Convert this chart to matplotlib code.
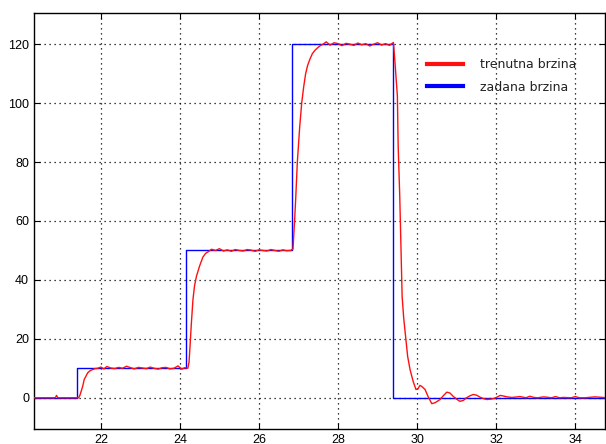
import matplotlib
matplotlib.use('Agg')
import matplotlib.pyplot as plt

# zadana brzina (setpoint) - step times and levels
set_t = [20.3, 21.39, 21.39, 24.15, 24.15, 26.83, 26.83, 29.39, 29.39, 34.8]
set_v = [0, 0, 10, 10, 50, 50, 120, 120, 0, 0]

red_start = [(20.3, 0.0), (20.6, 0.0), (20.85, 0.0), (20.88, 0.8), (20.91, 0.0), (21.2, 0.0),
             (21.44, 0.0)]
red_rise1 = [(21.47, 0.8), (21.50, 2.1), (21.54, 3.8), (21.58, 6.2), (21.63, 7.5), (21.67, 8.5),
             (21.73, 9.2), (21.80, 9.6), (21.86, 9.9), (21.92, 10.0)]
red_flat10 = [(22.0, 10.4), (22.08, 9.8), (22.15, 10.6), (22.25, 10.1), (22.35, 9.9), (22.45, 10.3),
              (22.55, 10.0), (22.65, 10.7), (22.75, 10.2), (22.85, 9.8), (22.95, 10.3), (23.05, 10.1),
              (23.15, 9.9), (23.25, 10.4), (23.35, 10.0), (23.45, 9.7), (23.55, 10.2), (23.65, 10.3),
              (23.75, 9.8), (23.85, 10.0), (23.95, 10.8), (24.05, 9.7), (24.12, 10.2), (24.20, 10.0)]
red_rise2 = [(24.23, 12.0), (24.25, 16.1), (24.29, 25.3), (24.33, 33.3), (24.37, 38.0), (24.42, 41.3),
             (24.50, 44.8), (24.58, 47.7), (24.65, 49.0), (24.71, 49.5), (24.80, 50.4)]
red_flat50 = [(24.9, 50.0), (25.0, 50.6), (25.1, 49.8), (25.2, 50.2), (25.3, 49.7), (25.4, 50.3),
              (25.5, 50.0), (25.6, 49.8), (25.7, 50.3), (25.8, 50.1), (25.9, 49.7), (26.0, 50.2),
              (26.1, 50.0), (26.2, 49.8), (26.3, 50.3), (26.4, 50.0), (26.5, 49.7), (26.6, 50.2),
              (26.7, 49.9), (26.8, 50.0), (26.86, 50.5)]
red_rise3 = [(26.88, 55.0), (26.90, 60.0), (26.93, 68.0), (26.97, 80.0), (27.03, 92.0), (27.08, 100.0),
             (27.13, 105.5), (27.18, 110.0), (27.23, 112.8), (27.29, 115.0), (27.35, 116.8),
             (27.42, 118.0), (27.50, 119.0), (27.56, 119.6), (27.62, 120.0)]
red_flat120 = [(27.7, 120.8), (27.8, 119.7), (27.9, 120.5), (28.0, 120.2), (28.1, 119.5), (28.2, 120.3),
               (28.3, 120.0), (28.4, 119.6), (28.5, 120.4), (28.6, 119.8), (28.7, 120.2), (28.8, 119.4),
               (28.9, 120.0), (29.0, 120.5), (29.1, 119.7), (29.2, 120.2), (29.3, 119.6), (29.40, 120.6)]
red_drop = [(29.44, 113.7), (29.47, 108.0), (29.50, 102.4), (29.52, 85.4), (29.56, 68.4), (29.59, 51.4),
            (29.62, 34.4), (29.66, 27.0), (29.69, 23.0), (29.76, 14.0), (29.82, 9.6), (29.90, 5.5),
            (29.97, 2.8)]
red_tail = [(30.02, 3.0), (30.07, 4.2), (30.12, 3.8), (30.20, 2.8), (30.28, 0.3), (30.37, -2.0),
            (30.45, -1.7), (30.58, -0.6), (30.67, 0.8), (30.75, 1.9), (30.83, 1.6), (30.91, 0.5),
            (31.0, -0.5), (31.08, -1.2), (31.17, -0.9), (31.25, 0.0), (31.34, 0.7), (31.42, 1.1),
            (31.50, 0.9), (31.59, 0.2), (31.68, -0.3), (31.76, -0.6), (31.85, -0.5), (31.93, -0.3),
            (32.02, 0.2), (32.10, 0.8), (32.18, 0.6), (32.27, 0.3), (32.4, 0.1), (32.6, 0.4),
            (32.75, 0.0), (32.85, 0.5), (32.95, 0.1), (33.05, 0.0), (33.2, 0.3), (33.4, 0.0),
            (33.5, 0.4), (33.6, 0.0), (33.7, 0.1), (33.9, 0.0), (34.0, 0.4), (34.1, 0.0),
            (34.25, 0.0), (34.5, 0.3), (34.8, 0.0)]

red_pts = red_start + red_rise1 + red_flat10 + red_rise2 + red_flat50 + red_rise3 + red_flat120 + red_drop + red_tail
red_t = [p[0] for p in red_pts]
red_v = [p[1] for p in red_pts]

fig = plt.figure(figsize=(6.06, 4.44), dpi=100)
ax = fig.add_axes([0.0561, 0.0345, 0.9422, 0.9369])

ax.plot(set_t, set_v, color='#0000ff', linewidth=1.0, zorder=2, label='zadana brzina')
ax.plot(red_t, red_v, color='#ff1010', linewidth=1.0, zorder=3, label='trenutna brzina')

ax.set_xlim(20.31, 34.75)
ax.set_ylim(-10.5, 130.7)
ax.set_xticks([22, 24, 26, 28, 30, 32, 34])
ax.set_yticks([0, 20, 40, 60, 80, 100, 120])

ax.grid(True, color='black', linestyle=(0, (1, 3)), linewidth=0.9)
ax.tick_params(direction='in', length=4, top=True, right=True, labelsize=9, pad=3.5,
               color='black')
for lbl in ax.get_xticklabels() + ax.get_yticklabels():
    lbl.set_family('Liberation Sans')
for sp in ax.spines.values():
    sp.set_linewidth(1.0)

# legend: red first, then blue, thick handles, no frame
h, l = ax.get_legend_handles_labels()
leg = ax.legend([h[1], h[0]], [l[1], l[0]], loc='upper left', bbox_to_anchor=(0.688, 0.89),
                frameon=False, fontsize=9, handlelength=2.9, handletextpad=1.36,
                borderpad=0, borderaxespad=0, labelspacing=0.75)
for line in leg.get_lines():
    line.set_linewidth(3)
for t in leg.get_texts():
    t.set_color('#222222')

fig.savefig('out.png', dpi=100)
